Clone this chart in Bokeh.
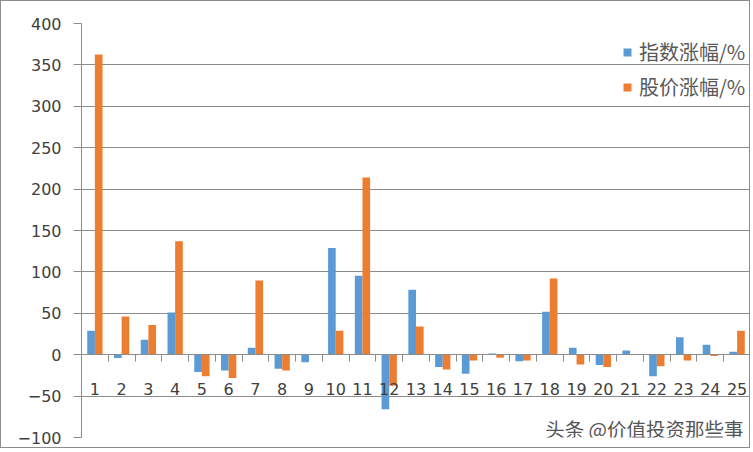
from bokeh.plotting import figure
from bokeh.models import (ColumnDataSource, Range1d, FixedTicker, Legend, LegendItem, Label)
from bokeh.transform import dodge
from bokeh.embed import file_html
from bokeh.resources import INLINE

# ---- data ----
categories = ["1", "2", "3", "4", "5", "6", "7", "8", "9", "10", "11", "12", "13",
              "14", "15", "16", "17", "18", "19", "20", "21", "22", "23", "24", "25"]
index_change = [29, -4, 18, 51, -21, -19, 8.5, -17, -9, 129, 95.5, -66, 78.5,
                -15, -23, 1.5, -8, 52, 8.5, -12.5, 5, -26, 21, 12, 3.6]
price_change = [362.5, 46, 36, 137, -26, -28, 89.5, -19, 0, 29, 214, -37.5, 34,
                -18, -7, -3.6, -7, 92, -11.7, -15, 0, -14, -7, -1.6, 29]
y_ticks = [-100, -50, 0, 50, 100, 150, 200, 250, 300, 350, 400]
series_names = ["指数涨幅/%", "股价涨幅/%"]
watermark = "头条 @价值投资那些事"

BLUE = "#5B9BD5"
ORANGE = "#ED7D31"
GRID = "#8C8C8C"
TXT = "#404040"

W, H = 750, 448

xpos = [i + 1 for i in range(len(categories))]
source = ColumnDataSource(dict(x=xpos, cat=categories, idx=index_change, price=price_change))

p = figure(width=W, height=H, output_backend="svg", toolbar_location=None,
           x_range=Range1d(0.5, len(categories) + 0.5), y_range=Range1d(-100, 400),
           min_border_left=80, min_border_right=1, min_border_top=22, min_border_bottom=12)
p.outline_line_color = None
p.background_fill_color = "white"
p.border_fill_color = "white"
p.styles = {"border": "1px solid #8C8C8C"}

bw = 1 / 3.5
r1 = p.vbar(x=dodge("x", -bw / 2, range=p.x_range), top="idx", bottom=0, width=bw,
            source=source, fill_color=BLUE, line_color=None)
r2 = p.vbar(x=dodge("x", bw / 2, range=p.x_range), top="price", bottom=0, width=bw,
            source=source, fill_color=ORANGE, line_color=None)

# grid
p.xgrid.visible = False
p.ygrid.grid_line_color = GRID
p.ygrid.grid_line_width = 1

# y axis
p.yaxis.ticker = FixedTicker(ticks=y_ticks)
p.yaxis.axis_line_color = GRID
p.yaxis.major_tick_line_color = GRID
p.yaxis.major_tick_out = 8
p.yaxis.major_tick_in = 0
p.yaxis.minor_tick_line_color = None
p.yaxis.major_label_standoff = 12
p.yaxis.major_label_text_font = "DejaVu Sans"
p.yaxis.major_label_text_font_size = "16px"
p.yaxis.major_label_text_color = TXT

# x axis at y = 0
xa = p.xaxis[0]
xa.fixed_location = 0
xa.ticker = FixedTicker(ticks=xpos, minor_ticks=[x - 0.5 for x in xpos] + [xpos[-1] + 0.5])
xa.major_label_overrides = {x: c for x, c in zip(xpos, categories)}
xa.axis_line_color = GRID
xa.major_tick_line_color = None
xa.major_tick_out = 0
xa.major_tick_in = 0
xa.minor_tick_line_color = GRID
xa.minor_tick_out = 7
xa.minor_tick_in = 0
xa.major_label_standoff = 21
xa.major_label_text_font = "DejaVu Sans"
xa.major_label_text_font_size = "16px"
xa.major_label_text_color = TXT

# legend
legend = Legend(items=[LegendItem(label=series_names[0], renderers=[r1]),
                       LegendItem(label=series_names[1], renderers=[r2])],
                location=(541, 336), orientation="vertical",
                glyph_width=10, glyph_height=10, label_standoff=7,
                label_text_font="Noto Sans CJK SC", label_text_font_size="20px",
                label_text_color="#595959", spacing=6, padding=0, margin=0,
                background_fill_alpha=0, border_line_color=None)
p.add_layout(legend)

# watermark
p.add_layout(Label(x=W - 80 - 1 - 7, y=9, x_units="screen", y_units="screen", text=watermark,
                   text_align="right", text_baseline="middle",
                   text_font="Noto Sans CJK SC", text_font_size="19.5px", text_color="#555555"))

open("out.html", "w").write(file_html(p, INLINE))
